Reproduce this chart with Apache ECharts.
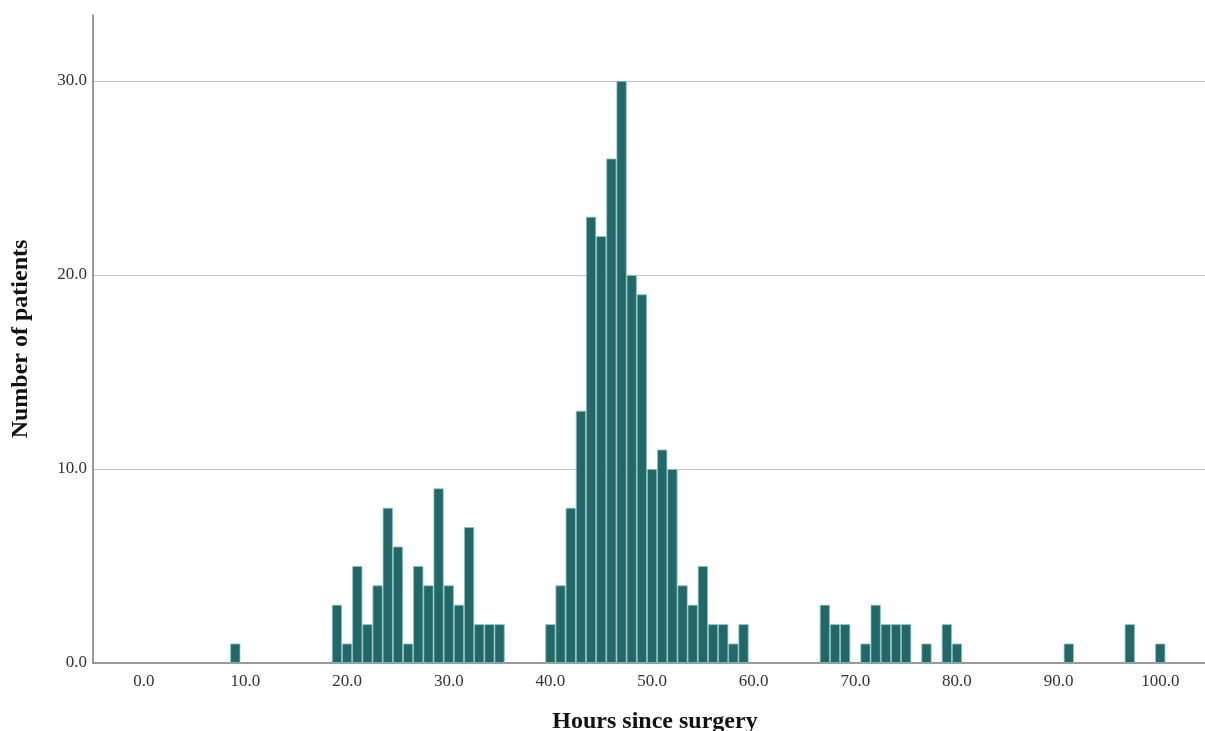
<!DOCTYPE html>
<html>
<head>
<meta charset="utf-8">
<script src="https://cdn.jsdelivr.net/npm/echarts@6/dist/echarts.min.js"></script>
<style>
html,body{margin:0;padding:0;background:#fff;}
#chart{width:1205px;height:731px;}
</style>
</head>
<body>
<div id="chart"></div>
<script>
// Histogram bins (hours since surgery, 1-hour bins) and counts
const hours = [9,
  19,20,21,22,23,24,25,26,27,28,29,30,31,32,33,34,35,
  40,41,42,43,44,45,46,47,48,49,50,51,52,53,54,55,56,57,58,59,
  67,68,69,71,72,73,74,75,77,79,80,
  91,97,100];
const counts = [1,
  3,1,5,2,4,8,6,1,5,4,9,4,3,7,2,2,2,
  2,4,8,13,23,22,26,30,20,19,10,11,10,4,3,5,2,2,1,2,
  3,2,2,1,3,2,2,2,1,2,1,
  1,2,1];
const yTicks = [0,10,20,30];
const xTitle = 'Hours since surgery';
const yTitle = 'Number of patients';

const chart = echarts.init(document.getElementById('chart'));
const font = 'Liberation Serif';
chart.setOption({
  animation: false,
  backgroundColor: '#ffffff',
  grid: {left: 93, right: 0, top: 15, bottom: 68, outerBoundsMode: 'none', containLabel: false},
  xAxis: {
    type: 'value', min: -5, max: 104.4, interval: 5,
    axisLine: {show: true, onZero: false, lineStyle: {color: '#7a7a7a', width: 1.5}},
    axisTick: {show: false},
    splitLine: {show: false},
    axisLabel: {
      showMaxLabel: false, showMinLabel: true,
      margin: 10, color: '#333', fontFamily: font, fontSize: 17,
      formatter: v => (v % 10 === 0 && v >= 0) ? v.toFixed(1) : ''
    },
    name: xTitle, nameLocation: 'middle', nameGap: 47,
    nameTextStyle: {fontFamily: font, fontWeight: 'bold', fontSize: 24, color: '#111', padding: [0,0,0,12]}
  },
  yAxis: {
    type: 'value', min: 0, max: 33.4, interval: 10,
    axisLine: {show: true, onZero: false, lineStyle: {color: '#7a7a7a', width: 1.5}},
    axisTick: {show: false},
    splitLine: {show: true, showMaxLine: false, showMinLine: false, lineStyle: {color: '#c4c4c4', width: 1.2}},
    axisLabel: {
      showMaxLabel: false, margin: 6, color: '#333', fontFamily: font, fontSize: 17,
      formatter: v => yTicks.includes(v) ? v.toFixed(1) : ''
    },
    name: yTitle, nameLocation: 'middle', nameGap: 60, nameRotate: 90,
    nameTextStyle: {fontFamily: font, fontWeight: 'bold', fontSize: 24, color: '#111'}
  },
  series: [{
    type: 'bar',
    data: hours.map((h, i) => [h, counts[i]]),
    barWidth: 10.16,
    itemStyle: {color: '#226868', borderColor: '#8cc3c0', borderWidth: 0.8},
    silent: true
  }]
});
</script>
</body>
</html>
